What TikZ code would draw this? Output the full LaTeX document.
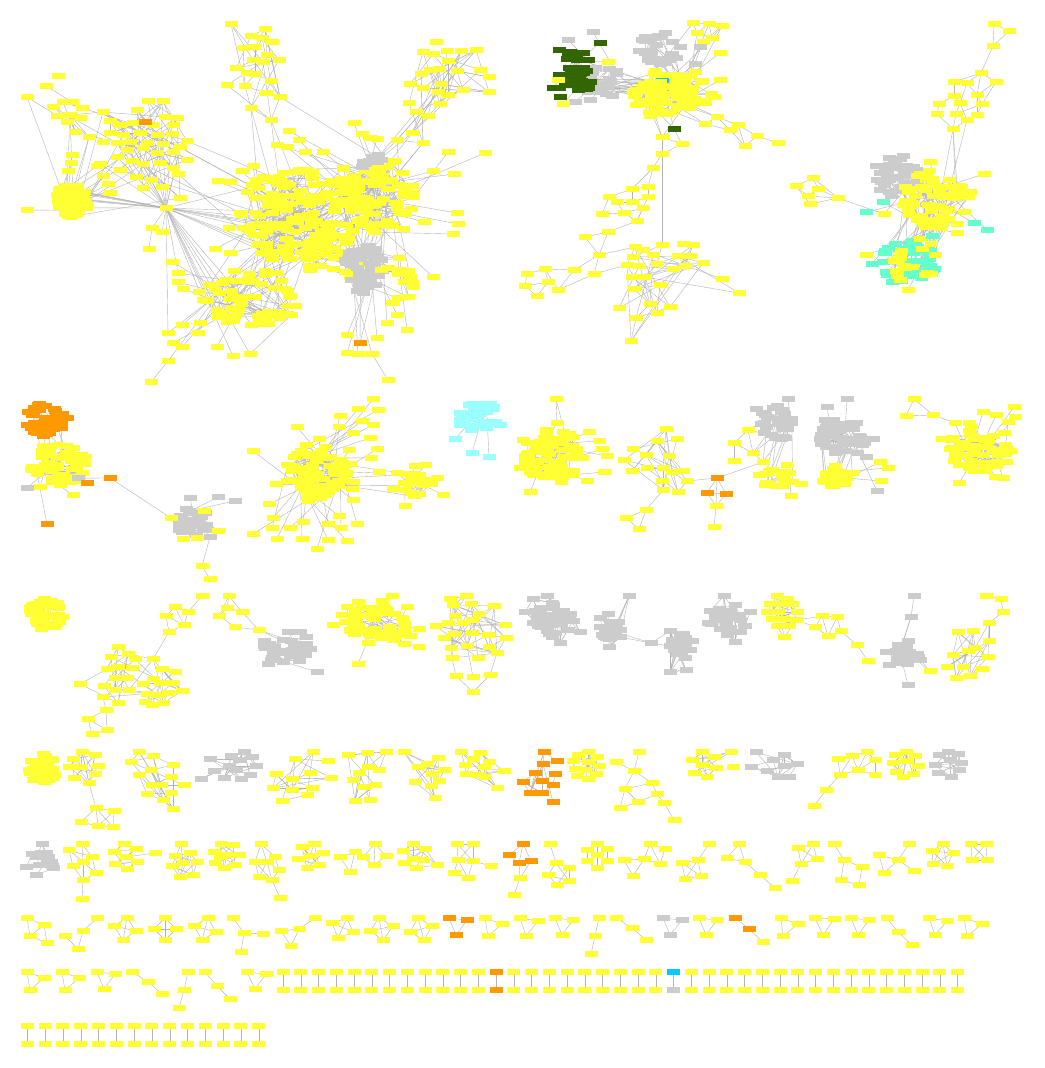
\documentclass[tikz,border=0pt]{standalone}
\definecolor{yel}{HTML}{FFFF33}
\definecolor{gry}{HTML}{CCCCCC}
\definecolor{org}{HTML}{FF9900}
\definecolor{dgr}{HTML}{336600}
\definecolor{aqu}{HTML}{66FFCC}
\definecolor{cyn}{HTML}{00CCFF}
\definecolor{lcy}{HTML}{99FFFF}
\definecolor{edg}{HTML}{B4B4B4}
\tikzset{
  nd/.style={rectangle,inner sep=0pt,outer sep=0pt,minimum width=13pt,minimum height=6pt},
  ny/.style={nd,fill=yel}, ng/.style={nd,fill=gry}, nor/.style={nd,fill=org},
  ndg/.style={nd,fill=dgr}, naq/.style={nd,fill=aqu}, ncy/.style={nd,fill=cyn},
  nlc/.style={nd,fill=lcy},
  ed/.style={draw=edg,line width=0.4pt}
}
\newif\iffirstc \firstctrue
\newcommand\regc[2]{\iffirstc\xdef\complist{#1/#2}\global\firstcfalse\else\xdef\complist{\complist,#1/#2}\fi}
% explicit component: name, style, list x/y  (positions now, boxes drawn at the end)
\newcommand\mkc[3]{\foreach \px/\py [count=\i] in {#3}{\coordinate (#1-\i) at (\px,\py);\expandafter\xdef\csname cnt#1\endcsname{\i}}\regc{#1}{#2}}
% explicit edges
\newcommand\mke[2]{\foreach \ea/\eb in {#2}{\draw[ed] (#1-\ea) -- (#1-\eb);}}
% random internal edges
\newcommand\mkr[2]{\edef\nn{\csname cnt#1\endcsname}\foreach \k in {1,...,#2}{\pgfmathtruncatemacro\ra{random(1,\nn)}\pgfmathtruncatemacro\rb{random(1,\nn)}\pgfmathtruncatemacro\rb{\rb==\ra ? mod(\ra,\nn)+1 : \rb}\draw[ed] (#1-\ra) -- (#1-\rb);}}
% random links between two components
\newcommand\mkl[3]{\edef\na{\csname cnt#1\endcsname}\edef\nb{\csname cnt#2\endcsname}\foreach \k in {1,...,#3}{\pgfmathtruncatemacro\ra{random(1,\na)}\pgfmathtruncatemacro\rb{random(1,\nb)}\draw[ed] (#1-\ra) -- (#2-\rb);}}
% attach every node of A to a random node of B
\newcommand\mka[2]{\edef\na{\csname cnt#1\endcsname}\edef\nb{\csname cnt#2\endcsname}\foreach \k in {1,...,\na}{\pgfmathtruncatemacro\rb{random(1,\nb)}\draw[ed] (#1-\k) -- (#2-\rb);}}
% m edges from one node to random nodes of B
\newcommand\mkh[3]{\edef\nb{\csname cnt#2\endcsname}\foreach \k in {1,...,#3}{\pgfmathtruncatemacro\rb{random(1,\nb)}\draw[ed] (#1) -- (#2-\rb);}}
% single link
\newcommand\lk[2]{\draw[ed] (#1) -- (#2);}
% random cluster: name style cx cy rx ry n m inner
\newcommand\mkcl[9]{\foreach \i in {1,...,#7}{\pgfmathsetmacro\ang{360*rnd}\pgfmathsetmacro\rad{sqrt(#9*#9+(1-#9*#9)*rnd)}\pgfmathsetmacro\px{#3+#5*\rad*cos(\ang)}\pgfmathsetmacro\py{#4+#6*\rad*sin(\ang)}\coordinate (#1-\i) at (\px,\py);}\expandafter\xdef\csname cnt#1\endcsname{#7}\regc{#1}{#2}\mkr{#1}{#8}}
\begin{document}
\begin{tikzpicture}[x=1pt,y=-1pt]
\pgfmathsetseed{7}
\path[use as bounding box,fill=white] (0,0) rectangle (1044,1068);
% ================= ROW 1 : big component =================
\mkcl{ua}{ny}{290}{215}{50}{48}{130}{110}{0}
\mkcl{ub}{ny}{372}{195}{45}{40}{100}{80}{0}
\mkcl{uc}{ny}{252}{298}{50}{30}{65}{50}{0}
\mkcl{ud}{ny}{335}{258}{30}{25}{35}{25}{0}
\mkcl{ug}{ng}{363}{268}{20}{25}{50}{35}{0}
\mkcl{uh}{ng}{372}{163}{12}{10}{8}{6}{0}
\mkcl{ue}{ny}{398}{280}{18}{25}{14}{10}{0}
\mkl{ua}{ub}{30}\mkl{ua}{uc}{20}\mkl{ub}{ug}{15}\mkl{ud}{ug}{10}\mkl{ue}{ug}{10}\mkl{uh}{ub}{8}
\mkc{upr}{ny}{448/152,485/153,454/174,433/171,457/213,458/224,453/234,424/222,403/229,433/277,410/277,397/315,387/323,407/330}
\mka{upr}{ub}
\mkc{upb}{ny}{377/338,347/353,358/354,372/354,347/335}
\mka{upb}{ug}
\mkc{uor2}{nor}{360/343}
\mkh{uor2-1}{ug}{2}
\mkc{uz1}{ny}{388/380}
\lk{uz1-1}{upb-4}
\mkc{upl}{ny}{172/262,178/273,178/282,183/289,199/292,203/300,182/325,168/333,173/343,182/347,200/323,217/347,233/356,250/354,168/361,198/333}
\mka{upl}{uc}
\mkc{uz2}{ny}{151/382}
\lk{uz2-1}{upl-15}
\mkc{upw}{ny}{218/181,230/182,242/171,253/166,241/215,229/228,215/249,230/253}
\mka{upw}{ua}
\mkc{upt}{ny}{289/131,299/140,277/145,287/147,305/152,323/152,354/123,362/134,370/138,377/139}
\mka{upt}{ub}
% left ball and upper-left clusters
\mkcl{lb}{ny}{73}{200}{17}{17}{60}{40}{0}
\mkc{lbx}{ny}{72/155,71/163,68/171,27/210,97/166,103/176,108/184,110/193}
\mka{lbx}{lb}
\mkc{fl}{ny}{58/76,46/86,27/97,63/102,72/102,53/107,82/108,57/116,70/115,80/118,67/122,75/132,89/137}
\mkr{fl}{14}
\mkl{fl}{lb}{5}
\mkc{ul}{ny}{148/101,163/101,137/110,103/112,110/121,165/117,177/118,120/125,133/123,153/125,173/125,110/133,123/135,140/133,157/135,172/134,187/141,103/142,117/143,130/142,147/143,163/144,180/147,127/150,143/148,157/153,173/152,187/160,117/157,132/161,143/164,160/163,173/168,120/170,100/164,136/177,151/180,178/174,143/188,162/187,180/198}
\mkr{ul}{60}
\mkc{uor1}{nor}{145/122}
\mkh{uor1-1}{ul}{3}
\mkl{ul}{lb}{8}\mkl{fl}{ul}{4}\mkl{ul}{ua}{6}
\mkc{hub}{ny}{166/208}
\mkh{hub-1}{ul}{12}\mkh{hub-1}{lb}{10}\mkh{hub-1}{ua}{10}\mkh{hub-1}{uc}{6}\mkh{hub-1}{upl}{4}
\mkc{hx}{ny}{152/228,162/232,149/249}
\mke{hx}{1/2,1/3}
\lk{hub-1}{hx-1}\lk{hub-1}{hx-2}
% spikes
\mkc{sp1}{ny}{231/24,265/29,251/36,262/38,272/42,243/48,255/47,267/55,253/60,263/62,279/60,236/68,247/73,255/74,227/85,245/86,266/93,280/97,271/81,251/108,271/120}
\mkr{sp1}{35}
\mkh{sp1-20}{ua}{2}\mkh{sp1-21}{ua}{2}\mkh{sp1-18}{ub}{1}
\mkc{sp2}{ny}{436/42,423/52,433/54,447/51,461/51,476/50,448/61,430/70,439/69,457/71,480/70,489/77,421/74,410/84,423/88,441/84,438/92,463/90,448/95,489/92,409/103,440/104,416/112,428/116,412/133,423/143,397/140}
\mkr{sp2}{40}
\mkh{sp2-25}{ub}{2}\mkh{sp2-26}{ub}{2}\mkh{sp2-27}{ub}{2}\mkh{sp2-23}{ub}{1}
% ================= ROW 1 : V component =================
\mkcl{vg}{ng}{603}{82}{20}{16}{24}{15}{0}
\mkcl{vd}{ndg}{574}{74}{22}{19}{32}{10}{0}
\mkc{vdx}{ndg}{600/43,559/50,570/52,583/53,553/88,560/97}
\mkc{vgx}{ng}{593/32,568/40,575/102,590/100,612/96}
\mkc{vyx}{ny}{563/104,608/62,558/80}
\mkl{vd}{vg}{15}\mka{vdx}{vd}\mka{vgx}{vg}\mka{vyx}{vd}
\mkcl{vt}{ng}{660}{48}{24}{16}{30}{15}{0}
\mkc{vc}{ncy}{662/81,681/79}
\mkcl{vy}{ny}{670}{90}{30}{20}{40}{40}{0}
\mkcl{vz}{ny}{672}{94}{40}{27}{28}{10}{0.5}
\mkl{vz}{vy}{20}
\mkl{vg}{vy}{25}\mkl{vt}{vy}{12}
\mkh{vc-1}{vy}{2}\mkh{vc-2}{vy}{2}
\mkc{vtr}{ny}{693/23,709/24,722/26,697/33,712/38,703/42,720/53,720/80,714/97,705/103}
\mke{vtr}{1/2,2/3,1/4,2/4,3/5,4/5,5/6,3/6,2/5}
\mka{vtr}{vy}
\mkc{vtg}{ng}{700/47,695/64}
\mka{vtg}{vy}
\mkc{vtl}{ny}{705/124,717/117,730/130,738/125,757/136,745/146,778/143}
\mke{vtl}{1/2,1/3,2/3,2/4,3/4,3/6,4/6,4/5,5/7,6/5}
\mkh{vtl-1}{vy}{2}\mkh{vtl-2}{vy}{2}
\mkc{vg9}{ndg}{674/129}
\mkc{vch}{ny}{662/137,682/144,662/154,653/168}
\mke{vch}{1/2,1/3,3/4,2/3}
\lk{vg9-1}{vch-1}\lk{vg9-1}{vch-2}\mkh{vg9-1}{vy}{2}\mkh{vch-1}{vy}{3}
\mkc{vb}{ny}{632/189,648/187,609/197,617/202,632/202,648/197,602/214,624/213,643/208,637/221,608/232,585/237,599/255,574/270,594/274,545/269,527/274,548/282,525/286,558/290,537/296}
\mke{vb}{1/2,1/5,2/6,1/3,3/4,4/5,5/6,5/9,4/8,3/7,7/8,8/9,9/10,6/10,8/10,10/11,11/12,11/13,12/13,13/14,13/15,14/20,15/20,16/17,16/18,17/19,18/19,19/21,18/21,16/20,14/16}
\lk{vch-4}{vb-1}\lk{vch-4}{vb-2}
\mkc{vlo}{ny}{662/245,683/244,693/245,635/247,643/250,633/257,653/255,678/256,691/256,627/265,639/266,657/264,673/269,685/266,703/263,632/277,645/277,660/285,634/289,722/279,739/293,619/308,650/304,670/307,657/313,636/318,631/341}
\mkr{vlo}{45}
\lk{vch-3}{vlo-1}\lk{vch-1}{vlo-1}\lk{vb-13}{vlo-4}\lk{vb-15}{vlo-10}
% ================= ROW 1 : W component =================
\mkc{wt}{ny}{994/24,1009/31,993/46,981/73,954/82,967/83,996/82,954/96,977/95,939/104,960/103,982/104,937/114,956/114,977/115,967/120,953/129}
\mke{wt}{1/2,1/3,2/3,3/4,4/5,4/6,4/7,4/9,5/6,5/8,6/9,7/9,6/11,8/10,8/11,9/12,10/13,11/14,12/15,9/15,13/17,14/17,15/16,16/17,11/16,14/16,12/14,7/12}
\mkcl{wg}{ng}{895}{175}{24}{22}{42}{15}{0}
\mkcl{wy}{ny}{937}{200}{35}{30}{60}{45}{0}
\mkcl{wa}{naq}{908}{262}{28}{25}{45}{20}{0}
\mkcl{wb}{ny}{918}{262}{26}{24}{18}{8}{0}
\mkl{wg}{wy}{12}\mkl{wy}{wa}{25}\mkl{wb}{wa}{8}
\mkh{wt-17}{wy}{3}\mkh{wt-16}{wy}{1}
\mkc{wax}{naq}{883/202,866/212,974/223,987/230,932/236,872/264}
\mka{wax}{wy}
\mkc{wyx}{ny}{984/174,930/162,866/255,957/233,908/290,884/214,900/280,925/275}
\mka{wyx}{wy}
\mkc{wl}{ny}{813/178,796/186,818/189,808/196,810/204,838/198}
\mke{wl}{1/2,1/3,1/6,2/4,3/4,4/6,5/6,3/6,2/5}
\lk{wl-6}{wyx-6}
% ================= ROW 2 =================
\mkcl{xo}{nor}{47}{418}{21}{19}{38}{10}{0}
\mkcl{xy}{ny}{58}{464}{30}{22}{50}{40}{0}
\mkl{xo}{xy}{6}
\mkc{xg}{ng}{27/488,78/478}
\mka{xg}{xy}
\mkc{xor}{nor}{87/483,110/478,47/524}
\mka{xor}{xy}
\mkc{xyx}{ny}{73/495,40/487}
\mka{xyx}{xy}
\mkcl{lg}{ng}{193}{522}{18}{14}{25}{25}{0}
\mkc{lgx}{ng}{190/498,218/497,235/501,210/537}
\mka{lgx}{lg}
\mkc{lyx}{ny}{204/511,218/531,183/539,197/538,171/518}
\mka{lyx}{lg}
\lk{xor-2}{lyx-5}
\mkc{lch}{ny}{202/566,210/579}
\lk{lgx-4}{lch-1}\lk{lch-1}{lch-2}
\mkcl{mc}{ny}{317}{473}{32}{30}{70}{70}{0}
\mkc{mp}{ny}{297/427,253/451,319/439,340/416,339/427,373/399,358/409,378/410,362/421,373/425,353/433,370/438,377/449,349/450,371/458,350/464,379/472,276/484,269/504,353/482,352/489,353/500,273/518,303/522,253/534,272/528,290/528,277/539,302/539,317/549,328/524,328/540,339/516,341/528,347/541,357/524}
\mka{mp}{mc}
\mkcl{mn}{ny}{415}{485}{18}{14}{18}{20}{0}
\mkl{mc}{mn}{4}
\mkc{mnx}{ny}{415/466,425/465,397/473,437/478,393/489,443/495,405/506}
\mka{mnx}{mn}
\mkcl{oc}{nlc}{477}{416}{22}{15}{35}{10}{0}
\mkc{ocx}{nlc}{455/439,462/425,472/453,489/457,500/425}
\mka{ocx}{oc}
\mkcl{pc}{ny}{553}{455}{30}{26}{70}{60}{0}
\mkc{ppx}{ny}{556/399,557/423,589/432,599/441,602/449,607/456,604/472,587/481,561/482,530/492,520/468,523/440}
\mka{ppx}{pc}
\lk{ppx-1}{ppx-2}
\mkc{qy}{ny}{666/429,657/441,677/439,633/449,646/455,669/456,624/460,647/468,663/468,672/472,683/471,632/471,662/481,687/481,663/490,678/492}
\mkr{qy}{30}
\mkc{qt}{ny}{646/510,626/518,639/529}
\mke{qt}{1/2,1/3,2/3}
\lk{qt-1}{qy-15}
\mkc{qo}{nor}{717/478,707/493,726/494}
\mke{qo}{1/2,1/3,2/3}
\mkc{qz}{ny}{716/506,714/527}
\lk{qo-2}{qz-1}\lk{qo-3}{qz-1}\lk{qo-1}{qz-1}\lk{qz-1}{qz-2}\lk{qo-1}{qy-14}
\mkcl{rg}{ng}{777}{423}{18}{20}{25}{25}{0}
\mkc{rgx}{ng}{756/409,788/399}
\mka{rgx}{rg}
\mkc{ry}{ny}{748/430,734/443,753/453,734/461,763/462}
\mke{ry}{1/2,1/3,2/4,3/5,2/3}
\mkh{ry-1}{rg}{2}\mkh{ry-3}{rg}{2}\mkh{ry-5}{rg}{2}
\mkcl{rl}{ny}{778}{480}{17}{11}{15}{15}{0}
\mkc{rlx}{ny}{801/484,791/496,787/465,759/475}
\mka{rlx}{rl}
\mkl{rl}{rg}{5}
\lk{qo-1}{ry-5}
\mkcl{sg}{ng}{845}{437}{25}{20}{35}{35}{0}
\mkc{sgx}{ng}{847/399,827/407,825/420,852/423,828/429,873/439,866/457,877/491}
\mka{sgx}{sg}
\mkcl{sy}{ny}{838}{478}{16}{13}{25}{15}{0}
\mkl{sy}{sg}{10}
\mkc{syx}{ny}{880/462,888/468,881/481}
\mka{syx}{sy}
\mkc{ttri}{ny}{914/399,906/416,933/415}
\mke{ttri}{1/2,1/3,2/3}
\mkcl{tc}{ny}{978}{447}{30}{26}{55}{55}{0}
\mkc{tx}{ny}{955/423,983/412,996/415,1014/407,1015/417,1008/422,1004/433,942/439,1010/451,1006/462,959/483,995/477,1003/478,985/471}
\mka{tx}{tc}
\lk{ttri-3}{tx-1}
% ================= ROW 3 =================
\mkcl{rza}{ny}{46}{614}{18}{15}{45}{20}{0}
\mkc{ra1}{ny}{202/596,175/607,188/612,166/616,184/625,169/632,153/659}
\mke{ra1}{1/3,2/3,2/4,3/5,4/5,2/5,4/6,5/6,6/7}
\mkc{ra2}{ny}{118/647,128/654,111/657,135/659,107/669,118/667,132/668,115/678,127/678,80/684,104/686,115/690,129/690,103/697,118/703}
\mkr{ra2}{25}
\mkc{ra3}{ny}{162/669,175/672,143/684,153/679,160/683,173/683,182/691,147/694,158/695,168/693,145/702,163/703,152/705}
\mkr{ra3}{25}
\mkc{ra4}{ny}{106/710,88/719,107/730,92/734}
\mke{ra4}{1/2,1/3,2/3,2/4,3/4}
\lk{ra2-14}{ra4-1}\mkh{ra1-7}{ra2}{2}\mkh{ra1-7}{ra3}{2}\mkl{ra2}{ra3}{6}
\mkc{rb1}{ny}{229/596,227/608,242/612,219/616,235/627,259/630}
\mke{rb1}{1/2,1/3,2/3,2/4,3/6,4/5,5/6,1/4}
\mkcl{rbg}{ng}{287}{648}{25}{16}{30}{25}{0}
\mkc{rbx}{ng}{317/672,268/664,300/632,306/637}
\mka{rbx}{rbg}
\mkh{rb1-6}{rbg}{2}
\mkcl{rc}{ny}{378}{622}{35}{17}{45}{50}{0}
\mkc{rcx}{ny}{347/607,358/602,382/601,392/596,407/607,342/615,333/625,358/627,404/624,419/629,410/636,368/643,393/640,404/644,419/647,358/664}
\mka{rcx}{rc}
\mkc{rd1}{ny}{450/599,466/596,471/604,453/605,494/606,455/616,479/614,436/626,448/623,463/623,472/620,505/625,454/634,472/633,488/635,444/638,506/638,451/648,467/646,489/647,452/658,478/658,497/653}
\mkr{rd1}{50}
\mkc{rd2}{ny}{456/676,473/677,490/675,473/692}
\mke{rd2}{1/4,3/4}
\lk{rd2-1}{rd1-21}\lk{rd2-2}{rd1-19}\lk{rd2-3}{rd1-23}
\mkc{re}{ng}{547/596,533/599,552/603,525/612,563/611,537/617,573/621,533/623,552/625,568/630,547/631,580/632,552/637,560/643}
\mkr{re}{35}
\mkcl{rez}{ng}{552}{619}{20}{15}{22}{15}{0}
\mkl{re}{rez}{8}
\mkc{rf}{ng}{629/596,608/614,600/618,618/622,600/627,620/630,602/635,620/637,609/647}
\mkr{rf}{18}
\mkcl{rfz}{ng}{610}{628}{10}{11}{10}{8}{0}
\mkl{rf}{rfz}{5}
\mkc{rfb}{ng}{651/643}
\mkc{rgg}{ng}{670/631,683/634,674/640,692/641,670/646,690/650,677/654,685/658,670/672,686/670}
\mkr{rgg}{22}
\mkcl{rgz}{ng}{680}{645}{11}{10}{10}{8}{0}
\mkl{rgg}{rgz}{5}
\lk{rfb-1}{rf-5}\lk{rfb-1}{rf-8}\lk{rfb-1}{rgg-1}\lk{rfb-1}{rgg-5}
\mkc{rh}{ng}{724/596,710/611,735/605,750/612,715/617,727/618,740/620,708/623,745/626,720/629,740/632,727/635,735/642}
\mkr{rh}{30}
\mkcl{rhz}{ng}{728}{620}{17}{14}{16}{10}{0}
\mkl{rh}{rhz}{6}
\mkc{ri}{ny}{777/596,787/599,770/604,782/604,792/604,767/612,778/612,797/612,772/619,784/619,797/620,777/626,789/626,784/637}
\mkr{ri}{30}
\mkc{ri2}{ny}{822/616,837/617,815/627,828/636,841/631,857/645,868/661}
\mke{ri2}{1/2,1/3,1/4,2/4,2/5,3/4,4/5,5/6,6/7}
\lk{ri-11}{ri2-1}\lk{ri-11}{ri2-3}
\mkc{rj}{ng}{914/596,911/617}
\mke{rj}{1/2}
\mkcl{rjc}{ng}{905}{657}{20}{13}{28}{25}{0}
\mkc{rjx}{ng}{908/685,908/641}
\mka{rjx}{rjc}
\mkc{rjy}{ny}{930/671}
\mkh{rjy-1}{rjc}{2}
\mkh{rj-2}{rjc}{2}
\mkc{rk1}{ny}{986/596,1001/599,1003/612,989/623}
\mke{rk1}{1/2,2/3,3/4}
\mkc{rk2}{ny}{958/632,973/631,989/641,975/648,953/655,968/651,988/657,947/667,963/667,982/669,970/676,956/678}
\mkr{rk2}{25}
\mkh{rk1-4}{rk2}{3}
% ================= ROW 4 =================
\mkcl{r4a}{ny}{42}{769}{14}{15}{35}{20}{0}
\mkc{c4b}{ny}{82/752,95/755,73/759,98/766,69/767,81/767,95/774,74/778,89/783}
\mkr{c4b}{20}
\mkc{c4c}{ny}{96/808,114/811,81/822,98/826,113/827}
\mke{c4c}{1/2,1/3,1/4,2/5,3/4,4/5,2/4,1/5}
\lk{c4b-9}{c4c-1}
\mkc{c4d}{ny}{139/752,153/756,131/762,173/765,151/770,139/775,171/777,152/785,161/785,184/785,147/794,171/793,163/800,173/809}
\mkr{c4d}{28}
\mkc{c4e}{ng}{210/759,201/779,214/771,224/778,231/756,244/752,252/757,239/760,229/766,256/766,236/770,250/775,241/779}
\mkr{c4e}{30}
\mkc{c4f}{ny}{295/759,313/752,328/761,276/774,310/773,292/779,331/778,273/788,292/790,312/788,307/795,282/801}
\mkr{c4f}{20}
\mkc{c4g}{ny}{348/755,367/753,386/752,359/773,368/767,379/770,353/780,364/787,375/785,355/801,370/800}
\mkr{c4g}{20}
\mkc{c4h}{ny}{404/752,418/767,427/764,438/758,444/770,415/782,432/774,439/781,431/786,435/798}
\mkr{c4h}{20}
\mkc{c4i}{ny}{461/752,480/753,473/759,489/762,465/765,484/767,466/774,478/775,504/771,485/777,497/788}
\mkr{c4i}{22}
\mkc{c4o}{nor}{544/752,535/773,543/764,557/761,555/774,542/781,523/782,553/785,530/793,542/793,553/802}
\mkr{c4o}{22}
\mkc{c4j}{ny}{588/752,578/755,597/757,573/761,588/762,599/766,575/769,585/770,596/774,577/776,588/779}
\mkr{c4j}{30}
\mkc{c4k}{ny}{639/752,616/762,634/771,652/783,625/789,657/794,638/802,620/808,664/803,674/820}
\mke{c4k}{1/3,2/3,3/4,3/5,4/6,5/7,6/7,7/8,5/8,6/9,9/10,4/5}
\mkc{c4l}{ny}{702/752,714/757,731/752,692/760,702/765,716/768,733/767,694/773,707/777}
\mkr{c4l}{18}
\mkc{c4m}{ng}{756/752,773/760,784/755,751/767,767/771,784/766,797/764,778/777,789/777}
\mkr{c4m}{20}
\mkc{c4n}{ny}{838/759,852/756,867/752,875/760,858/770,875/775,840/775,826/790,814/806}
\mke{c4n}{1/2,2/3,3/4,2/5,3/5,4/5,4/6,5/6,1/7,5/7,2/7,7/8,8/9}
\mkc{c4p}{ny}{906/752,895/755,915/756,893/763,906/761,918/766,896/772,913/774,903/777}
\mkr{c4p}{25}
\mkc{c4q}{ng}{948/752,939/755,958/754,935/765,950/760,961/763,938/773,959/770,951/777}
\mkr{c4q}{25}
% ================= ROW 5 =================
\mkcl{r5a}{ng}{40}{863}{15}{14}{15}{22}{0}
\mkc{r5ax}{ng}{42/844}
\mkh{r5ax-1}{r5a}{3}
\mkc{r5b}{ny}{82/844,69/850,92/857,73/866,83/862,96/873,83/880,82/899}
\mke{r5b}{1/2,1/3,1/5,2/4,2/5,3/5,3/6,4/5,4/7,5/6,5/7,6/7,7/8,2/3}
\mkc{r5c}{ny}{124/844,114/852,136/849,126/857,155/853,115/864,137/862,127/869}
\mkr{r5c}{16}
\mkc{r5d}{ny}{181/844,175/856,190/853,172/866,183/863,197/862,193/875,180/877}
\mkr{r5d}{16}
\mkc{r5e}{ny}{221/844,233/845,214/852,239/855,220/857,227/855,215/863,235/865,224/868}
\mkr{r5e}{20}
\mkc{r5f}{ny}{261/844,275/857,255/862,267/862,279/870,259/877,272/880,280/898}
\mke{r5f}{1/3,1/4,1/2,2/4,3/4,3/6,4/5,4/7,5/7,6/7,2/5,7/8,3/7,4/6}
\mkc{r5g}{ny}{302/847,314/844,298/859,310/856,323/853,307/868,319/865}
\mkr{r5g}{14}
\mkc{r5h}{ny}{340/857,355/852,363/857,375/844,386/856,374/865,350/872}
\mke{r5h}{1/2,1/7,2/3,2/7,3/4,3/6,4/5,4/6,5/6}
\mkc{r5i}{ny}{413/844,403/851,425/849,413/859,404/863,423/860,416/868,437/865}
\mkr{r5i}{16}
\mkc{r5j}{ny}{457/844,473/844,458/860,473/861,454/873,468/878,491/866}
\mke{r5j}{1/2,1/3,1/4,2/3,2/4,3/4,3/5,3/6,4/6,4/7,5/6}
\mkc{r5o}{nor}{523/844,509/855,531/861,519/863}
\mke{r5o}{1/2,1/3,1/4,2/4,3/4}
\mkc{r5oy}{ny}{520/878,514/895}
\mke{r5oy}{1/2}
\lk{r5o-4}{r5oy-1}\lk{r5o-3}{r5oy-1}
\mkc{r5k}{ny}{550/844,556/863,569/868,548/875,569/881,557/885}
\mke{r5k}{1/2,2/3,2/4,2/5,3/5,4/6,5/6,3/6,4/5}
\mkc{r5l}{ny}{597/844,587/850,607/849,597/855,587/861,607/861,597/868}
\mke{r5l}{1/2,1/3,1/4,2/4,3/4,4/5,4/6,4/7,5/7,6/7,2/5,3/6,1/7}
\mkc{r5m}{ny}{650/844,665/849,624/860,644/859,660/864,633/876}
\mke{r5m}{1/4,1/5,2/5,1/2,3/4,4/5,3/6,4/6}
\mkc{r5n}{ny}{709/844,698/860,682/863,701/876,685/879}
\mke{r5n}{1/2,2/3,2/4,2/5,3/4,4/5,3/5}
\mkc{r5p}{ny}{739/844,727/858,745/862,760/875,775/888}
\mke{r5p}{1/2,1/3,2/3,3/4,4/5}
\mkc{r5q}{ny}{813/844,798/848,817/859,801/864,792/881}
\mke{r5q}{1/2,1/3,1/4,2/3,3/4,4/5,2/4}
\mkc{r5r}{ny}{834/844,844/860,862/867,841/880,859/885}
\mke{r5r}{1/2,2/3,2/4,3/5,4/5}
\mkc{r5s}{ny}{909/844,879/855,898/860,884/873,914/871}
\mke{r5s}{1/3,2/3,3/4,3/5,2/4}
\mkc{r5t}{ny}{943/844,932/851,953/853,933/864,947/866}
\mke{r5t}{1/2,1/3,1/4,1/5,2/3,2/4,2/5,3/4,3/5,4/5}
\mkc{r5u}{ny}{971/844,986/844,972/860,987/860}
\mke{r5u}{1/2,1/3,1/4,2/3,2/4,3/4}
% ================= ROW 6 =================
\mkc{r6a}{ny}{27/918,44/925,30/936,47/943}\mke{r6a}{1/2,1/3,2/3,2/4,3/4}
\mkc{r6b}{ny}{97/918,83/931,65/936,78/949}\mke{r6b}{1/2,2/4,3/4}
\mkc{r6c}{ny}{127/918,114/926,136/931,123/940}\mke{r6c}{1/2,1/3,1/4,2/3,2/4,3/4}
\mkc{r6d}{ny}{165/918,154/929,176/929,165/940}\mke{r6d}{1/2,1/3,1/4,2/3,2/4,3/4}
\mkc{r6e}{ny}{208/918,194/926,216/932,202/940}\mke{r6e}{1/2,1/3,1/4,2/3,2/4,3/4}
\mkc{r6f}{ny}{233/918,244/933,263/934,241/952}\mke{r6f}{1/2,2/3,2/4}
\mkc{r6g}{ny}{315/918,299/929,281/931,291/946}\mke{r6g}{1/2,2/3,2/4,3/4}
\mkc{r6h}{ny}{347/918,332/923,353/932,338/938}\mke{r6h}{1/2,1/3,1/4,2/3,2/4,3/4}
\mkc{r6i}{ny}{379/918,393/926,370/931,383/940}\mke{r6i}{1/2,1/3,1/4,2/3,2/4,3/4}
\mkc{r6j}{ny}{418/918,432/926,410/932,424/940}\mke{r6j}{1/2,1/3,1/4,2/3,2/4,3/4}
\mkc{r6o}{nor}{449/918,467/920,456/935}\mke{r6o}{1/2,1/3,2/3}
\mkc{r6k}{ny}{485/918,502/924,488/936}\mke{r6k}{1/2,1/3,2/3}
\mkc{r6l}{ny}{520/918,538/921,526/936}\mke{r6l}{1/2,1/3,2/3}
\mkc{r6m}{ny}{555/918,573/920,562/935}\mke{r6m}{1/2,1/3,2/3}
\mkc{r6n}{ny}{599/918,595/936,591/954}\mke{r6n}{1/2,2/3}
\mkc{r6p}{ny}{616/918,632/928,646/940}\mke{r6p}{1/2,2/3}
\mkc{r6q}{ng}{663/918,682/920,670/935}\mke{r6q}{1/2,1/3,2/3}
\mkc{r6r}{ny}{699/918,717/920,706/935}\mke{r6r}{1/2,1/3,2/3}
\mkc{r6s}{nor}{735/918,749/929}\mke{r6s}{1/2}
\mkc{r6sy}{ny}{763/942}
\lk{r6s-2}{r6sy-1}
\mkc{r6t}{ny}{781/918,798/924,783/936}\mke{r6t}{1/2,1/3,2/3}
\mkc{r6u}{ny}{815/918,834/919,823/935}\mke{r6u}{1/2,1/3,2/3}
\mkc{r6v}{ny}{851/918,869/920,858/935}\mke{r6v}{1/2,1/3,2/3}
\mkc{r6w}{ny}{887/918,898/932,912/945}\mke{r6w}{1/2,2/3}
\mkc{r6x}{ny}{929/918,947/921,935/935}\mke{r6x}{1/2,1/3,2/3}
\mkc{r6y}{ny}{964/918,982/924,967/936}\mke{r6y}{1/2,1/3,2/3}
% ================= ROW 7 =================
\mkc{r7a}{ny}{27/972,44/978,30/990}\mke{r7a}{1/2,1/3,2/3}
\mkc{r7b}{ny}{62/972,79/978,65/990}\mke{r7b}{1/2,1/3,2/3}
\mkc{r7c}{ny}{97/972,115/974,104/989}\mke{r7c}{1/2,1/3,2/3}
\mkc{r7d}{ny}{132/972,148/982,162/994}\mke{r7d}{1/2,2/3}
\mkc{r7e}{ny}{188/972,184/990,179/1008}\mke{r7e}{1/2,2/3}
\mkc{r7f}{ny}{205/972,217/986,230/999}\mke{r7f}{1/2,2/3}
\mkc{r7g}{ny}{247/972,266/974,255/989}\mke{r7g}{1/2,1/3,2/3}
\foreach \kk in {0,...,11,13,14,...,21,23,24,...,38}{
  \pgfmathsetmacro\qx{283+17.75*\kk}
  \mkc{pp\kk}{ny}{\qx/971.5,\qx/990}
  \lk{pp\kk-1}{pp\kk-2}}
\pgfmathsetmacro\qx{283+17.75*12}
\mkc{ppo}{nor}{\qx/971.5,\qx/990}
\lk{ppo-1}{ppo-2}
\pgfmathsetmacro\qx{283+17.75*22}
\mkc{ppc}{ncy}{\qx/971.5}
\mkc{ppg}{ng}{\qx/990}
\lk{ppc-1}{ppg-1}
% ================= ROW 8 =================
\foreach \kk in {0,...,13}{
  \pgfmathsetmacro\qx{27.3+17.8*\kk}
  \mkc{qq\kk}{ny}{\qx/1025.5,\qx/1044}
  \lk{qq\kk-1}{qq\kk-2}}
% ================= draw all boxes on top of the connectors =================
\foreach \c/\s in \complist {%
  \edef\nn{\csname cnt\c\endcsname}%
  \foreach \i in {1,...,\nn}{%
    \edef\tmp{\noexpand\node[\s] (b\c-\i) at (\c-\i) {};}\tmp}}
\end{tikzpicture}
\end{document}
